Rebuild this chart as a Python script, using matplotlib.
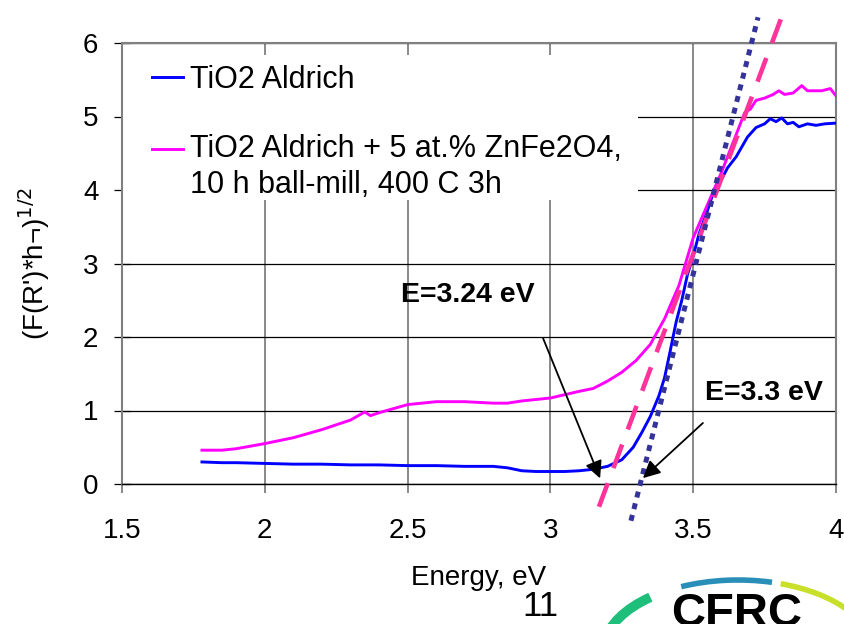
import numpy as np
import matplotlib.pyplot as plt
from matplotlib.legend_handler import HandlerLine2D
from matplotlib.patches import Arc, Rectangle

plt.rcParams['font.family'] = ['Liberation Sans', 'DejaVu Sans']

# ---- data ----
e_tio2 = [1.78, 1.85, 1.90, 2.00, 2.10, 2.20, 2.30, 2.40, 2.50, 2.60, 2.70, 2.80,
          2.85, 2.90, 2.95, 3.00, 3.05, 3.10, 3.15, 3.20, 3.25, 3.29, 3.32, 3.35,
          3.38, 3.40, 3.42, 3.44, 3.46, 3.48, 3.50, 3.52, 3.55, 3.57, 3.60, 3.62,
          3.65, 3.69, 3.72, 3.75, 3.77, 3.79, 3.81, 3.83, 3.85, 3.87, 3.90, 3.93,
          3.96, 4.00]
f_tio2 = [0.30, 0.29, 0.29, 0.28, 0.27, 0.27, 0.26, 0.26, 0.25, 0.25, 0.24, 0.24,
          0.22, 0.18, 0.17, 0.17, 0.17, 0.18, 0.20, 0.24, 0.33, 0.50, 0.70, 0.92,
          1.20, 1.45, 1.82, 2.20, 2.50, 2.85, 3.10, 3.40, 3.72, 3.96, 4.15, 4.30,
          4.45, 4.72, 4.85, 4.90, 4.97, 4.93, 4.98, 4.90, 4.92, 4.86, 4.90, 4.88,
          4.90, 4.91]

e_zn = [1.78, 1.85, 1.90, 2.00, 2.10, 2.20, 2.30, 2.35, 2.37, 2.40, 2.50, 2.60,
        2.70, 2.80, 2.85, 2.90, 3.00, 3.10, 3.15, 3.20, 3.25, 3.30, 3.35, 3.40,
        3.45, 3.50, 3.55, 3.60, 3.62, 3.65, 3.68, 3.70, 3.72, 3.75, 3.78, 3.80,
        3.82, 3.85, 3.88, 3.90, 3.95, 3.98, 4.00]
f_zn = [0.46, 0.46, 0.48, 0.55, 0.63, 0.74, 0.87, 0.98, 0.93, 0.97, 1.08, 1.12,
        1.12, 1.10, 1.10, 1.13, 1.17, 1.26, 1.30, 1.40, 1.52, 1.68, 1.90, 2.25,
        2.70, 3.35, 3.80, 4.25, 4.45, 4.75, 5.05, 5.10, 5.22, 5.25, 5.30, 5.35,
        5.30, 5.32, 5.42, 5.35, 5.35, 5.38, 5.28]

# band-gap fit lines (end points)
fit_zn_x = [3.170, 3.815]
fit_zn_y = [-0.31, 6.41]
fit_tio2_x = [3.282, 3.727]
fit_tio2_y = [-0.50, 6.35]

labels = ['TiO2 Aldrich', 'TiO2 Aldrich + 5 at.% ZnFe2O4,\n10 h ball-mill, 400 C 3h']
x_ticks = [1.5, 2, 2.5, 3, 3.5, 4]
x_ticklabels = ['1.5', '2', '2.5', '3', '3.5', '4']
y_ticks = [0, 1, 2, 3, 4, 5, 6]


class ShiftedHandler(HandlerLine2D):
    # put the legend line next to the first text line
    def __init__(self, shift, **kw):
        super().__init__(**kw)
        self.shift = shift

    def create_artists(self, legend, orig_handle, xdescent, ydescent, width,
                       height, fontsize, trans):
        arts = super().create_artists(legend, orig_handle, xdescent, ydescent,
                                      width, height, fontsize, trans)
        for a in arts:
            a.set_ydata(np.asarray(a.get_ydata()) + self.shift)
        return arts


#%% Plotting
fig = plt.figure(figsize=(8.44, 6.24), dpi=100)
ax = fig.add_axes([122/844, 1 - 484/624, 714/844, 441/624])

l1, = ax.plot(e_tio2, f_tio2, color='#0000FF', lw=2.1, zorder=3)
l2, = ax.plot(e_zn, f_zn, color='#FF00FF', lw=2.1, zorder=3)
ax.plot(fit_zn_x, fit_zn_y, color='#FF3399', lw=3.3, dashes=(5.5, 3.5),
        clip_on=False, zorder=4)
ax.plot(fit_tio2_x, fit_tio2_y, color='#333399', lw=3.6, dashes=(1.2, 1.2),
        clip_on=False, zorder=4)

ax.set_xlim(1.5, 4)
ax.set_ylim(0, 6)
ax.set_xticks(x_ticks)
ax.set_xticklabels(x_ticklabels)
ax.set_yticks(y_ticks)

ax.xaxis.grid(True, color='#808080', lw=1.3)
ax.yaxis.grid(True, color='black', lw=0.9)
ax.set_axisbelow(True)
ax.tick_params(axis='x', direction='out', length=6.5, width=1.3, color='#808080',
               labelsize=20, pad=18)
ax.tick_params(axis='y', direction='inout', length=12, width=0.9, color='black',
               labelsize=20, pad=11)
for s in ['left', 'right', 'top']:
    ax.spines[s].set_color('#808080')
    ax.spines[s].set_linewidth(1.5)
ax.spines['bottom'].set_color('black')
ax.spines['bottom'].set_linewidth(1.0)

ax.set_xlabel('Energy, eV', fontsize=20, labelpad=15)
ax.set_ylabel("(F(R')*h¬)$^{1/2}$", fontsize=20, labelpad=22)

# white box behind the legend hides the grid there
ax.add_patch(Rectangle((0.0, 0.644), 0.7227, 0.329, transform=ax.transAxes,
                       facecolor='white', edgecolor='none', zorder=2))
leg = ax.legend([l1, l2], labels, loc='upper left', bbox_to_anchor=(0.042, 0.951),
                fontsize=22, frameon=False, handlelength=1.0, handletextpad=0.25,
                labelspacing=1.3, borderaxespad=0.0, borderpad=0.0,
                handler_map={l2: ShiftedHandler(14)})
for t in leg.get_texts():
    t.set_linespacing(1.25)
leg.set_zorder(5)

ax.annotate('', xy=(3.174, 0.077), xytext=(2.974, 1.986),
            arrowprops=dict(arrowstyle='-|>', color='black', lw=1.3,
                            mutation_scale=26, shrinkA=0, shrinkB=0), zorder=6)
ax.annotate('', xy=(3.324, 0.08), xytext=(3.534, 0.83),
            arrowprops=dict(arrowstyle='-|>', color='black', lw=1.3,
                            mutation_scale=26, shrinkA=0, shrinkB=0), zorder=6)
ax.text(2.711, 2.57, 'E=3.24 eV', fontsize=20.5, fontweight='bold',
        ha='center', va='center', zorder=6)
ax.text(3.748, 1.24, 'E=3.3 eV', fontsize=20.5, fontweight='bold',
        ha='center', va='center', zorder=6)

# slide number and logo
fig.text(540/844, 1 - 606/624, '11', fontsize=25, ha='center', va='center')
lax = fig.add_axes([0, 0, 1, 1], zorder=-1)
lax.set_xlim(0, 844)
lax.set_ylim(624, 0)
lax.axis('off')
lax.add_patch(Arc((738, 652), 270, 144, theta1=160, theta2=212, color='#1DBF7A', lw=7))
lax.add_patch(Arc((738, 652), 270, 144, theta1=229, theta2=296, color='#2A8FB8', lw=4))
lax.add_patch(Arc((738, 652), 270, 144, theta1=302, theta2=340, color='#C8E02A', lw=4))
fig.text(737/844, -0.004, 'CFRC', fontsize=34, fontweight='bold', ha='center',
         va='baseline')

fig.savefig('out.png', dpi=100)
